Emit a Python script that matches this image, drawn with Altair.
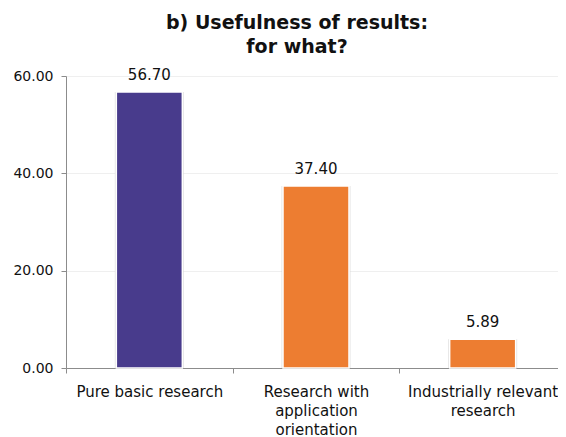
import altair as alt
import pandas as pd

categories = ["Pure basic research", "Research with\napplication\norientation", "Industrially relevant\nresearch"]
values = [56.70, 37.40, 5.89]
colors = ["#483b8c", "#ed7d31", "#ed7d31"]
y_ticks = [0, 20, 40, 60]
title_lines = ["b) Usefulness of results:", "for what?"]

df = pd.DataFrame({"cat": categories, "val": values, "color": colors})

FONT = "DejaVu Sans"

x_enc = alt.X(
    "cat:N",
    sort=categories,
    scale=alt.Scale(paddingInner=0, paddingOuter=0, range=[0, 500]),
    axis=alt.Axis(
        title=None,
        labelAngle=0,
        labelExpr="isString(datum.value) ? split(datum.value, '\\n') : ''",
        labelFont=FONT,
        labelFontSize=15,
        labelLineHeight=19,
        labelColor="#111111",
        labelPadding=11,
        tickBand="extent",
        tickSize=5,
        tickColor="#8c8c8c",
        domainColor="#8c8c8c",
        grid=False,
    ),
)
y_enc = alt.Y(
    "val:Q",
    scale=alt.Scale(domain=[0, 60], nice=False),
    axis=alt.Axis(
        title=None,
        values=y_ticks,
        format=".2f",
        labelFont=FONT,
        labelFontSize=14,
        labelColor="#111111",
        labelPadding=8,
        tickSize=5,
        tickColor="#8c8c8c",
        domainColor="#8c8c8c",
        grid=True,
        gridColor="#efefef",
    ),
)

base = alt.Chart(df)

shadow = base.mark_bar(size=69, color="#d4d4d4", opacity=0.7).encode(x=x_enc, y=y_enc)
bars = base.mark_bar(size=66, stroke="white", strokeWidth=1.5).encode(
    x=x_enc, y=y_enc, fill=alt.Fill("color:N", scale=None)
)
labels = base.mark_text(
    baseline="bottom", dy=-9, font=FONT, fontSize=15, color="#111111"
).encode(x=x_enc, y=y_enc, text=alt.Text("val:Q", format=".2f"))

chart = (
    alt.layer(shadow, bars, labels)
    .properties(
        width=492,
        height=292,
        autosize=alt.AutoSizeParams(type="none"),
        padding={"left": 58, "top": 68, "right": 0, "bottom": 69},
        title=alt.TitleParams(
            text=title_lines,
            font=FONT,
            fontSize=19,
            fontWeight="bold",
            lineHeight=24,
            color="#111111",
            anchor="middle",
            frame="group",
            dx=-15,
            offset=11,
        ),
    )
    .configure_view(stroke=None)
)

chart.save("out.html", embed_options={"renderer": "svg", "actions": False})
